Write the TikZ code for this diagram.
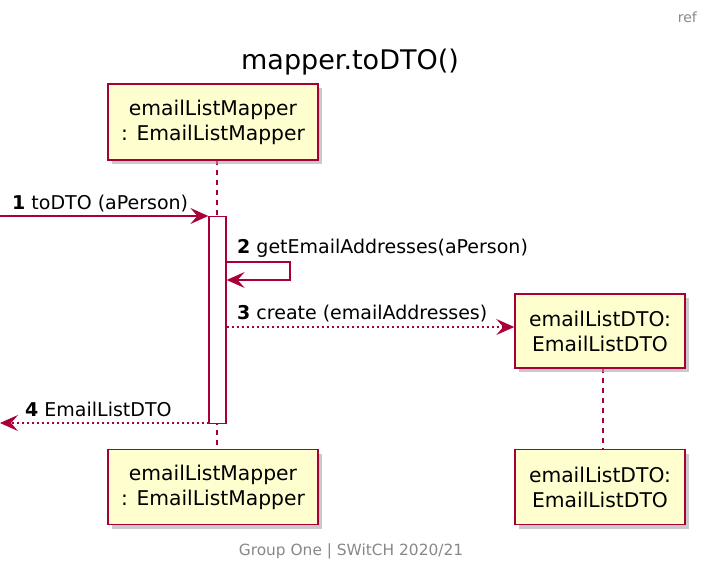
\documentclass[tikz,border=0pt]{standalone}
\usepackage{fontspec}
\setmainfont{DejaVu Sans}
\usetikzlibrary{arrows.meta,shadows}
\definecolor{umlred}{HTML}{A80036}
\definecolor{umlfill}{HTML}{FEFECE}
\definecolor{footgray}{HTML}{888888}
\tikzset{
  participant/.style={draw=umlred, line width=1.4pt, fill=umlfill, align=center,
    font=\fontsize{20.3}{25}\selectfont, inner sep=0pt,
    drop shadow={shadow xshift=4pt, shadow yshift=-4pt, fill=black!35, opacity=0.6}},
  lifeline/.style={draw=umlred, line width=1.2pt, dash pattern=on 5pt off 5pt},
  msg/.style={draw=umlred, line width=1.3pt, -{Stealth[length=18pt,width=16pt,inset=7pt]}},
  retmsg/.style={msg, dash pattern=on 2.5pt off 2.5pt},
  lbl/.style={font=\fontsize{19}{23}\selectfont, anchor=base west, inner sep=0pt},
  actbar/.style={draw=umlred, line width=1.3pt, fill=white}
}
\begin{document}
\begin{tikzpicture}[x=1pt,y=-1pt]
\useasboundingbox (0,0) rectangle (707,565);
% header / footer
\node[font=\fontsize{14}{16}\selectfont, text=footgray, anchor=base east, inner sep=0pt] (refl) at (697,22) {ref};
\node[font=\fontsize{27}{31}\selectfont, anchor=base, inner sep=0pt] (title) at (350,69) {mapper.toDTO()};
\node[font=\fontsize{15.4}{18}\selectfont, text=footgray, anchor=base, inner sep=0pt] (foot) at (351,555) {Group One | SWitCH 2020/21};
% lifelines
\coordinate (l1top) at (217,160);
\coordinate (l1bot) at (217,449);
\coordinate (l2top) at (603,368);
\coordinate (l2bot) at (603,449);
\draw[lifeline] (l1top) -- (l1bot);
\draw[lifeline] (l2top) -- (l2bot);
% participants
\node[participant, minimum width=210pt, minimum height=76pt] (p1) at (213,122) {emailListMapper\\: EmailListMapper};
\node[participant, minimum width=210pt, minimum height=75pt] (p1b) at (213,487) {emailListMapper\\: EmailListMapper};
\node[participant, minimum width=170pt, minimum height=74pt] (p2) at (600,331) {emailListDTO:\\EmailListDTO};
\node[participant, minimum width=170pt, minimum height=75pt] (p2b) at (600,487) {emailListDTO:\\EmailListDTO};
% activation bar
\node[actbar, minimum width=17pt, minimum height=207pt, inner sep=0pt, anchor=north] (act) at (217.5,216) {};
% message 1
\coordinate (m1s) at (0,216);
\draw[msg] (m1s) -- (act.north west);
\node[lbl] (t1) at (12,209) {\textbf{1} toDTO (aPerson)};
% message 2 (self)
\coordinate (m2a) at (290,262);
\coordinate (m2b) at (290,280);
\draw[msg] (act.east |- m2a) -- (m2a) -- (m2b) -- (act.east |- m2b);
\node[lbl] (t2) at (237,253) {\textbf{2} getEmailAddresses(aPerson)};
% message 3
\draw[retmsg] (act.east |- 0,327) -- (p2.west |- 0,327);
\node[lbl] (t3) at (237,319) {\textbf{3} create (emailAddresses)};
% message 4
\coordinate (m4e) at (0,423);
\coordinate (m4s) at (209,423);
\draw[retmsg] (m4s) -- (m4e);
\node[lbl] (t4) at (25,416) {\textbf{4} EmailListDTO};
\end{tikzpicture}
\end{document}
